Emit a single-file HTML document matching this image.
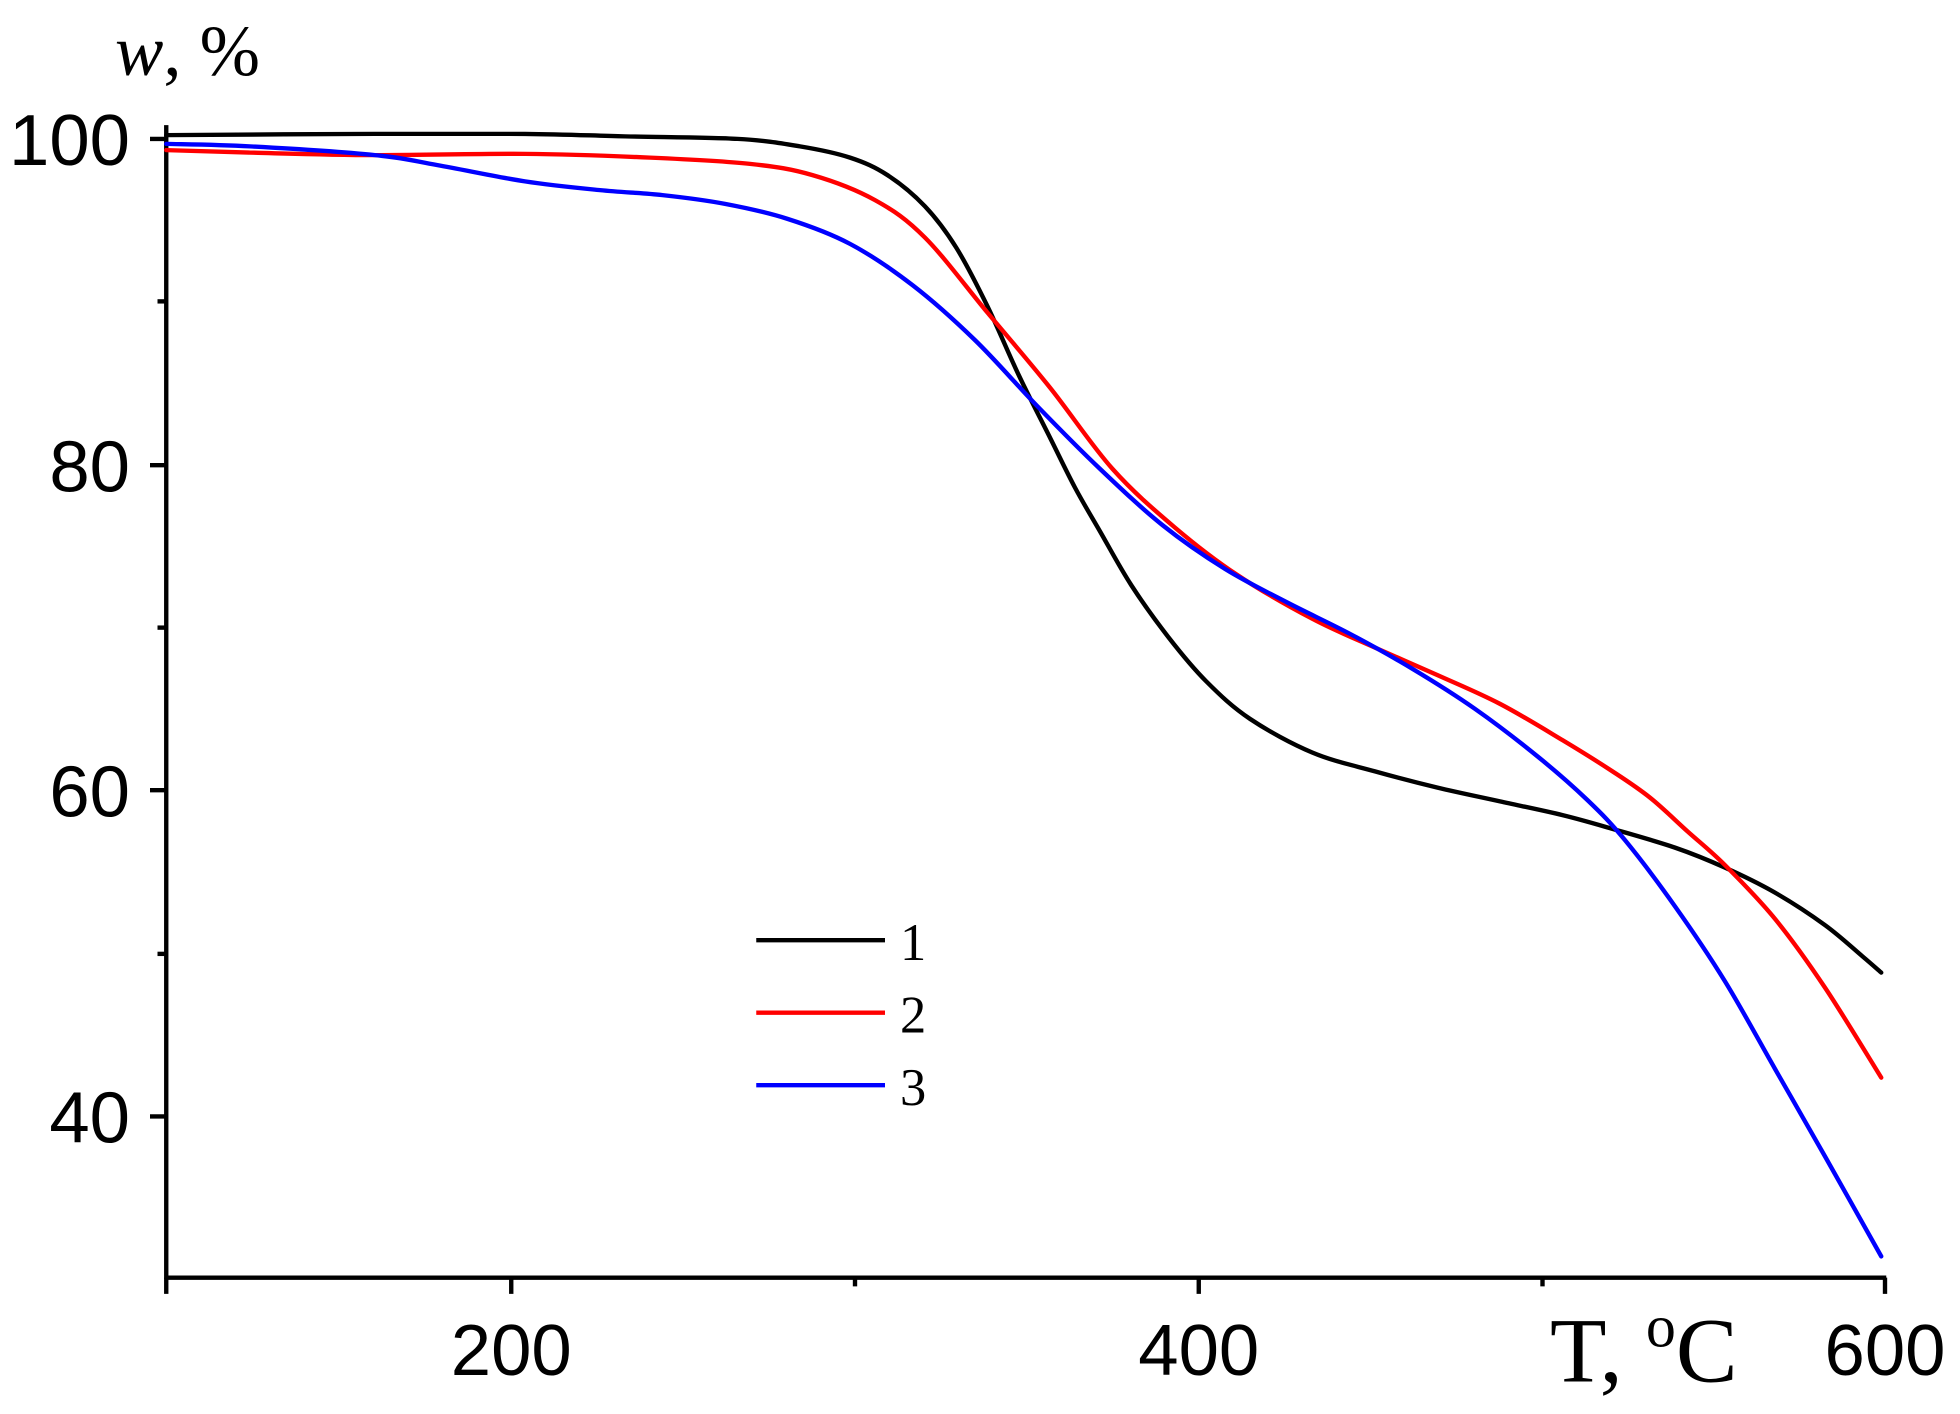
<!DOCTYPE html>
<html><head><meta charset="utf-8"><style>html,body{margin:0;padding:0;background:#fff}svg{display:block}</style></head>
<body>
<svg id="s" width="1960" height="1414" viewBox="0 0 1568 1131" xmlns="http://www.w3.org/2000/svg">
<rect width="1568" height="1131" fill="#fff"/>
<g stroke="#000" stroke-width="3.5" fill="none">
<line x1="133" y1="100" x2="133" y2="1023"/>
<line x1="132" y1="1022" x2="1509" y2="1022"/>
<line x1="120" y1="111" x2="133" y2="111"/>
<line x1="120" y1="372" x2="133" y2="372"/>
<line x1="120" y1="632" x2="133" y2="632"/>
<line x1="120" y1="893" x2="133" y2="893"/>
<line x1="126" y1="241" x2="133" y2="241"/>
<line x1="126" y1="502" x2="133" y2="502"/>
<line x1="126" y1="763" x2="133" y2="763"/>
<line x1="133" y1="1022" x2="133" y2="1035"/>
<line x1="409" y1="1022" x2="409" y2="1035"/>
<line x1="959" y1="1022" x2="959" y2="1035"/>
<line x1="1508" y1="1022" x2="1508" y2="1035"/>
<line x1="684" y1="1022" x2="684" y2="1029"/>
<line x1="1234" y1="1022" x2="1234" y2="1029"/>
</g>
<g font-family="Liberation Sans, sans-serif" font-size="58" fill="#000">
<text x="104" y="132" text-anchor="end">100</text>
<text x="104" y="393" text-anchor="end">80</text>
<text x="104" y="653" text-anchor="end">60</text>
<text x="104" y="914" text-anchor="end">40</text>
<text x="409" y="1100" text-anchor="middle">200</text>
<text x="959" y="1100" text-anchor="middle">400</text>
<text x="1508" y="1100" text-anchor="middle">600</text>
</g>
<g font-family="Liberation Serif, serif" fill="#000">
<text x="92" y="60" font-size="58"><tspan font-style="italic">w</tspan>, %</text>
<text x="1240" y="1105" font-size="74">T, <tspan font-size="48" dy="-28">o</tspan><tspan dy="28">C</tspan></text>
<text x="720" y="768" font-size="42">1</text>
<text x="720" y="826" font-size="42">2</text>
<text x="720" y="884" font-size="42">3</text>
</g>
<g stroke-width="3.5" fill="none">
<line x1="605" y1="752" x2="708" y2="752" stroke="#000"/>
<line x1="605" y1="810" x2="708" y2="810" stroke="#f00"/>
<line x1="605" y1="868" x2="708" y2="868" stroke="#00f"/>
</g>
<g fill="none" stroke-width="3.5" stroke-linejoin="round" stroke-linecap="round">
<polyline class="c" stroke="#000" points="133,108 300,107 420,107 500,109 590,111 640,117 680,126 710,140 740,165 765,198 790,245 815,300 840,350 860,390 880,425 905,468 935,510 965,545 1000,575 1050,602 1100,617 1150,630 1200,641 1250,652 1290,663 1340,678 1380,694 1420,714 1460,740 1490,765 1505,778"/>
<polyline class="c" stroke="#f00" points="133,120 200,122 300,124 420,123 520,126 600,131 650,140 700,160 740,190 790,250 840,310 890,375 940,422 990,460 1050,495 1100,518 1150,540 1200,563 1250,592 1290,617 1320,638 1350,665 1380,692 1420,735 1460,790 1505,862"/>
<polyline class="c" stroke="#00f" points="133,115 200,117 300,124 350,132 420,145 480,152 530,156 580,163 630,175 680,195 730,228 780,272 830,325 880,375 930,420 980,455 1030,482 1080,507 1130,535 1180,567 1230,605 1270,640 1300,672 1340,725 1380,785 1420,855 1460,925 1505,1005"/>
</g>
</svg>
<script>
document.querySelectorAll('polyline.c').forEach(function(pl){
  var p=pl.getAttribute('points').trim().split(/\s+/).map(function(s){return s.split(',').map(Number);});
  var d='M'+p[0][0]+','+p[0][1];
  for(var i=0;i<p.length-1;i++){
    var p0=p[i-1]||p[i],p1=p[i],p2=p[i+1],p3=p[i+2]||p2;
    var c1x=p1[0]+(p2[0]-p0[0])/6,c1y=p1[1]+(p2[1]-p0[1])/6;
    var c2x=p2[0]-(p3[0]-p1[0])/6,c2y=p2[1]-(p3[1]-p1[1])/6;
    d+=' C'+c1x+','+c1y+' '+c2x+','+c2y+' '+p2[0]+','+p2[1];
  }
  var path=document.createElementNS('http://www.w3.org/2000/svg','path');
  path.setAttribute('d',d);path.setAttribute('stroke',pl.getAttribute('stroke'));
  pl.parentNode.replaceChild(path,pl);
});
</script>
</body></html>
